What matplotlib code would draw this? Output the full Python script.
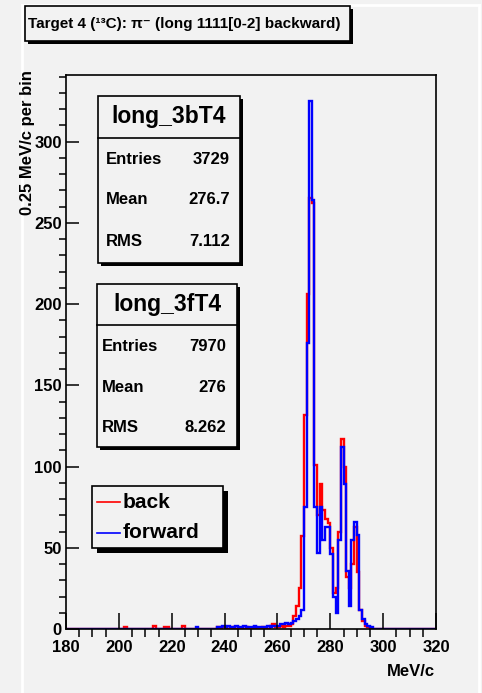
import matplotlib
matplotlib.use('Agg')
import matplotlib.pyplot as plt
import numpy as np
from matplotlib.patches import Rectangle
from matplotlib.lines import Line2D

plt.rcParams['font.family'] = ['Liberation Sans', 'DejaVu Sans']
plt.rcParams['font.weight'] = 'bold'

# counts per 1 MeV/c bin, first bin starts at 200
first_bin = 200
back_counts = [0, 0, 1, 0, 0, 0, 0, 0, 0, 0,
               0, 0, 0, 2, 0, 0, 0, 1, 1, 0,
               0, 0, 0, 0, 2, 0, 0, 0, 0, 0,
               0, 0, 0, 0, 0, 0, 0, 1, 0, 1,
               1, 0, 0, 1, 0, 0, 0, 0, 1, 0,
               0, 1, 0, 0, 1, 0, 0, 2, 3, 1,
               1, 2, 1, 2, 2, 3, 8, 14, 25, 57,
               132, 206, 265, 262, 101, 70, 89, 73, 68, 65,
               50, 22, 25, 60, 117, 100, 32, 25, 40, 63,
               35, 12, 5, 2, 1, 0, 0, 0, 0, 0]
forward_counts = [0, 0, 0, 0, 0, 0, 0, 0, 0, 0,
                  0, 0, 0, 0, 0, 0, 0, 0, 0, 0,
                  0, 0, 0, 0, 0, 0, 0, 0, 0, 1,
                  0, 0, 0, 0, 0, 0, 0, 1, 1, 2,
                  1, 2, 1, 1, 2, 1, 1, 2, 1, 1,
                  1, 2, 1, 1, 1, 1, 2, 1, 2, 2,
                  2, 3, 3, 4, 3, 4, 5, 6, 8, 12,
                  75, 176, 325, 264, 75, 47, 75, 55, 63, 63,
                  46, 20, 10, 55, 112, 89, 36, 14, 55, 66,
                  58, 12, 6, 3, 2, 1, 0, 0, 0, 0]

x_ticks = [180, 200, 220, 240, 260, 280, 300, 320]
y_ticks = [0, 50, 100, 150, 200, 250, 300]

back_stats = ["long_3bT4", "3729", "276.7", "7.112"]
forward_stats = ["long_3fT4", "7970", "276", "8.262"]
stat_names = ["Entries", "Mean", "RMS"]
legend_labels = ["back", "forward"]

W, H = 482, 693
bg = '#f2f2f2'

fig = plt.figure(figsize=(W / 100, H / 100), dpi=100, facecolor=bg)
ax = fig.add_axes([66 / W, 1 - 629 / H, (436 - 66) / W, (629 - 75) / H])
ax.set_facecolor(bg)

edges = np.arange(180, 321)
back = np.zeros(140)
forward = np.zeros(140)
back[first_bin - 180:first_bin - 180 + len(back_counts)] = back_counts
forward[first_bin - 180:first_bin - 180 + len(forward_counts)] = forward_counts

ax.stairs(back, edges, color='#ff0000', lw=1.7)
ax.stairs(forward, edges, color='#0000ff', lw=1.7)

ax.set_xlim(180, 320)
ax.set_ylim(0, 341)
ax.set_xticks(x_ticks)
ax.set_yticks(y_ticks)
ax.set_xticks(np.arange(180, 321, 5), minor=True)
ax.set_yticks(np.arange(0, 341, 10), minor=True)
ax.tick_params(direction='in', top=False, right=False, labelsize=12, width=1.1)
ax.tick_params(axis='x', which='major', length=11.5, pad=8)
ax.tick_params(axis='x', which='minor', length=5.5, width=1.1)
ax.tick_params(axis='y', which='major', length=9, pad=3)
ax.tick_params(axis='y', which='minor', length=4.8, width=1.1)
for lab in ax.get_xticklabels() + ax.get_yticklabels():
    lab.set_fontweight('bold')
for s in ax.spines.values():
    s.set_linewidth(1.2)


def fx(x):
    return x / W


def fy(y):
    return 1 - y / H


def box(x0, y0, x1, y1, sh):
    fig.add_artist(Rectangle((fx(x0 + sh), fy(y1 + sh)), (x1 - x0) / W, (y1 - y0) / H,
                             transform=fig.transFigure, facecolor='black', edgecolor='none', zorder=3))
    fig.add_artist(Rectangle((fx(x0), fy(y1)), (x1 - x0) / W, (y1 - y0) / H,
                             transform=fig.transFigure, facecolor=bg, edgecolor='black', lw=1.2, zorder=4))


# pad border
fig.add_artist(Line2D([fx(22), fx(22)], [fy(5), 0], color='white', lw=2, transform=fig.transFigure))
fig.add_artist(Line2D([fx(22), fx(479)], [fy(5), fy(5)], color='white', lw=2, transform=fig.transFigure))
fig.add_artist(Line2D([fx(479), fx(479)], [fy(5), 0], color='white', lw=2, transform=fig.transFigure))

# title
box(25, 6, 350, 41, 2.5)
fig.text(fx(28), fy(24), "Target 4 (\u00b9\u00b3C): \u03c0\u207b (long 1111[0-2] backward)",
         fontsize=11, fontweight='bold', va='center', ha='left', zorder=5)

# axis titles
fig.text(fx(28), fy(70), "0.25 MeV/c per bin", rotation=90, fontsize=12,
         fontweight='bold', ha='center', va='top')
fig.text(fx(435), fy(672), "MeV/c", fontsize=12, fontweight='bold', ha='right', va='center')

# stats boxes
for st, (x0, y0, x1, y1, ysep, lx, rx, rows) in zip(
        [back_stats, forward_stats],
        [(98, 96, 240, 263, 138, 106, 230, [160, 200, 242]),
         (97, 284, 237, 447, 325, 102, 226, [347, 388, 428])]):
    box(x0, y0, x1, y1, 3)
    fig.add_artist(Line2D([fx(x0), fx(x1)], [fy(ysep), fy(ysep)], color='black', lw=1.2,
                          transform=fig.transFigure, zorder=5))
    fig.text(fx((x0 + x1) / 2), fy((y0 + ysep) / 2), st[0], fontsize=16.5, fontweight='bold',
             ha='center', va='center', zorder=5)
    for name, val, yy in zip(stat_names, st[1:], rows):
        fig.text(fx(lx), fy(yy), name, fontsize=12, fontweight='bold', ha='left', va='center', zorder=5)
        fig.text(fx(rx), fy(yy), val, fontsize=12, fontweight='bold', ha='right', va='center', zorder=5)

# legend
box(92, 486, 223, 548, 5)
for lab, col, yy in zip(legend_labels, ['#ff0000', '#0000ff'], [502, 533]):
    fig.add_artist(Line2D([fx(97), fx(120)], [fy(yy), fy(yy)], color=col, lw=1.2,
                          transform=fig.transFigure, zorder=5))
    fig.text(fx(123), fy(yy), lab, fontsize=15, fontweight='bold', ha='left', va='center', zorder=5)

fig.savefig('out.png', dpi=100, facecolor=bg)
